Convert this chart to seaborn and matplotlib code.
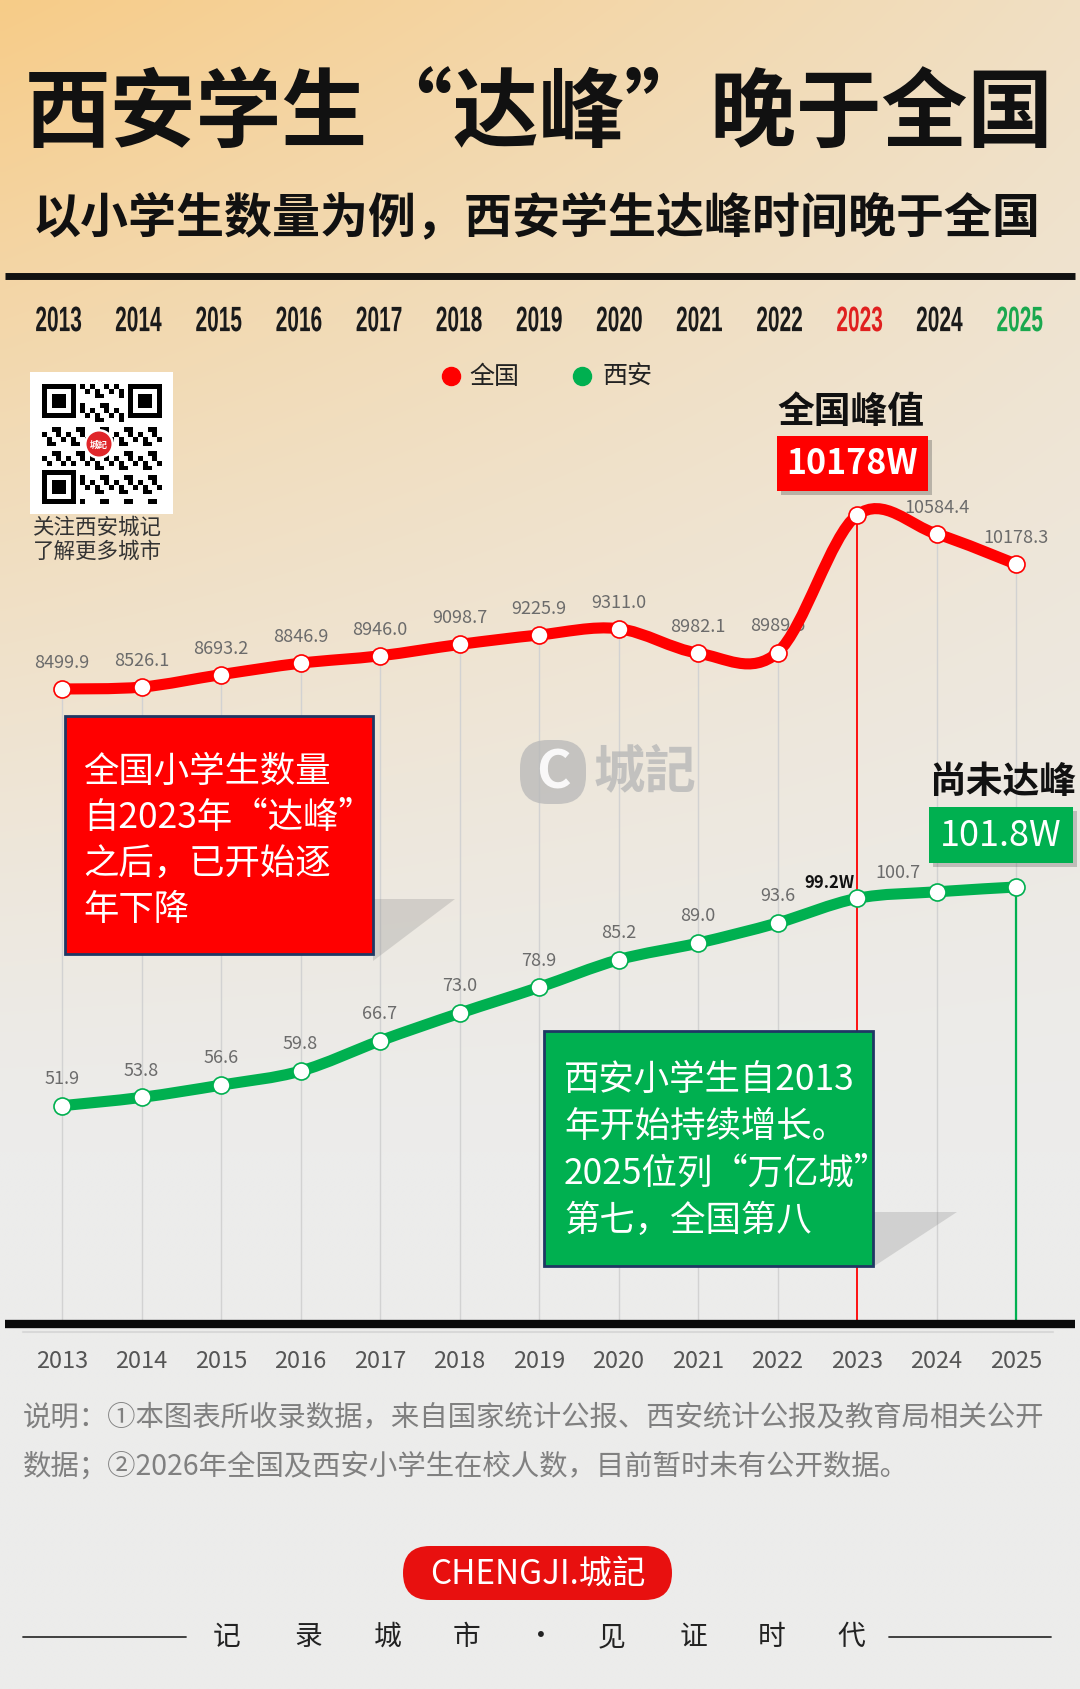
import numpy as np
import matplotlib
matplotlib.use('Agg')
import matplotlib.pyplot as plt
import matplotlib.transforms as mtransforms
import seaborn as sns
from matplotlib.path import Path
from matplotlib.patches import PathPatch, Rectangle, Polygon, FancyBboxPatch, Circle
from matplotlib.textpath import TextPath
from matplotlib.font_manager import FontProperties

sns.set_theme(style='white')
plt.rcParams['font.family'] = ['Noto Sans CJK SC', 'DejaVu Sans']

# ---- data ----
years = [2013, 2014, 2015, 2016, 2017, 2018, 2019, 2020, 2021, 2022, 2023, 2024, 2025]
national = [8499.9, 8526.1, 8693.2, 8846.9, 8946.0, 9098.7, 9225.9, 9311.0,
            8982.1, 8989.5, 10836.0, 10584.4, 10178.3]
xian = [51.9, 53.8, 56.6, 59.8, 66.7, 73.0, 78.9, 85.2, 89.0, 93.6, 99.2, 100.7, 101.8]
year_labels = [str(y) for y in years]
peak_year = 2023
national_peak_text = '10178W'
xian_now_text = '101.8W'

title = '西安学生“达峰”晚于全国'
subtitle = '以小学生数量为例，西安学生达峰时间晚于全国'
red_note = ['全国小学生数量', '自2023年“达峰”', '之后，已开始逐', '年下降']
green_note = ['西安小学生自2013', '年开始持续增长。', '2025位列“万亿城”', '第七，全国第八']
foot_note = ['说明：①本图表所收录数据，来自国家统计公报、西安统计公报及教育局相关公开',
             '数据；②2026年全国及西安小学生在校人数，目前暂时未有公开数据。']
tagline = ['记', '录', '城', '市', '·', '见', '证', '时', '代']

RED = '#ff0000'
GREEN = '#00b050'
NAVY = '#1f3864'

W, H = 1080, 1690
fig = plt.figure(figsize=(W / 100, H / 100), dpi=100)

# background layer in pixel coordinates
bg = fig.add_axes([0, 0, 1, 1])
bg.set_zorder(0)
bg.axis('off')
gy, gx = np.mgrid[0:1:200j, 0:1:120j]
w = np.clip(1 - gy * H / 1150, 0, 1) ** 1.3 * (1 - 0.6 * gx)
grey = np.array([236, 236, 235]) / 255
orange = np.array([247, 204, 136]) / 255
img = grey[None, None, :] + w[:, :, None] * (orange - grey)[None, None, :]
bg.imshow(img, extent=(0, W, H, 0), aspect='auto', interpolation='bilinear', zorder=0)

# chart axes
step = 79.5
left_px = 62 - step / 2
ax = fig.add_axes([left_px / W, (H - 1325) / H, 13 * step / W, (1325 - 300) / H])
ax2 = ax.twinx()
ax.set_zorder(1)
ax2.set_zorder(2)


def smooth_path(xs, ys):
    pts = np.column_stack([xs, ys]).astype(float)
    ext = np.vstack([pts[0], pts, pts[-1]])
    verts, codes = [pts[0]], [Path.MOVETO]
    for i in range(len(pts) - 1):
        p0, p1, p2, p3 = ext[i], ext[i + 1], ext[i + 2], ext[i + 3]
        verts += [p1 + (p2 - p0) / 6, p2 - (p3 - p1) / 6, p2]
        codes += [Path.CURVE4] * 3
    return Path(verts, codes)


nat_lo, xia_lo = -35, 2.1
# grey drop lines
others = [(y, v) for y, v in zip(years, national) if y != peak_year]
ax.vlines([o[0] for o in others], nat_lo, [o[1] for o in others], color='#d2d2d2', lw=1, zorder=1)
ax.vlines(peak_year, nat_lo, national[years.index(peak_year)], color=RED, lw=1.3, zorder=2)
ax2.vlines(years[-1], xia_lo, xian[-1], color=GREEN, lw=1.6, zorder=2)

ax.add_patch(PathPatch(smooth_path(years, national), fc='none', ec=RED, lw=8,
                       capstyle='round', zorder=3))
ax2.add_patch(PathPatch(smooth_path(years, xian), fc='none', ec=GREEN, lw=8,
                        capstyle='round', zorder=3))
sns.scatterplot(x=years, y=national, ax=ax, color='white', edgecolor=RED, s=150,
                linewidth=1.2, zorder=4, legend=False)
sns.scatterplot(x=years, y=xian, ax=ax2, color='white', edgecolor=GREEN, s=150,
                linewidth=1.2, zorder=4, legend=False)

for y, v in zip(years, national):
    if y == peak_year:
        continue
    ax.annotate(f'{v:.1f}', (y, v), xytext=(0, 19.5), textcoords='offset points',
                ha='center', va='center', fontsize=13, color='#6b6b6b', zorder=2)
for y, v in zip(years, xian):
    if y < peak_year:
        ax2.annotate(f'{v:.1f}', (y, v), xytext=(0, 20), textcoords='offset points',
                     ha='center', va='center', fontsize=13, color='#6b6b6b', zorder=2)
    elif y == peak_year:
        ax2.annotate(f'{v:.1f}W', (y, v), xytext=(-2, 12), textcoords='offset points',
                     ha='right', va='center', fontsize=12, weight='bold', color='#111', zorder=2)
    elif y < years[-1]:
        ax2.annotate(f'{v:.1f}', (y, v), xytext=(-28, 14.5), textcoords='offset points',
                     ha='center', va='center', fontsize=13, color='#6b6b6b', zorder=2)

ax.set_xlim(years[0] - 0.5, years[-1] + 0.5)
ax.set_ylim(nat_lo, 13742)
ax2.set_ylim(xia_lo, 235.95)
for a in (ax, ax2):
    a.axis('off')
    a.patch.set_alpha(0)

# foreground layer in pixel coordinates
fg = fig.add_axes([0, 0, 1, 1])
fg.set_zorder(5)
fg.axis('off')
fg.patch.set_alpha(0)

# title block
t1 = bg.text(539, 116, title, fontsize=62, weight='bold', ha='center', va='center', color='#111')
t2 = bg.text(537, 218, subtitle, fontsize=34.5, weight='bold', ha='center', va='center', color='#111')
bg.plot([5, 1075], [277, 277], color='#111', lw=5, solid_capstyle='butt')


def fit_width(t, target):
    bb = t.get_window_extent(renderer=fig.canvas.get_renderer())
    t.set_fontsize(t.get_fontsize() * target / bb.width)


fit_width(t1, 1030)
fit_width(t2, 1007)

# condensed year row on top
fp = FontProperties(family=['Liberation Sans Narrow', 'Liberation Sans'], weight='bold')
ref = TextPath((0, 0), '2013', size=100, prop=fp).get_extents()
sx, sy = 45 / ref.width, 25 / ref.height
for i, lab in enumerate(year_labels):
    tp = TextPath((0, 0), lab, size=100, prop=fp)
    e = tp.get_extents()
    col = '#1a1a1a'
    if years[i] == peak_year:
        col = '#e0201f'
    elif years[i] == years[-1]:
        col = '#1aa84e'
    tr = mtransforms.Affine2D().translate(-(e.x0 + e.x1) / 2, -(e.y0 + e.y1) / 2) \
        .scale(sx, -sy).translate(58.6 + i * 80.1, 320)
    bg.add_patch(PathPatch(tr.transform_path(tp), fc=col, ec='none'))

# legend
fg.plot(451, 377, 'o', ms=13, color=RED)
fg.text(469, 377, '全国', fontsize=18, ha='left', va='center', color='#222')
fg.plot(582, 377, 'o', ms=13, color=GREEN)
fg.text(603, 377, '西安', fontsize=18, ha='left', va='center', color='#222')

# QR-style badge
bg.add_patch(Rectangle((30, 373), 143, 142, fc='white', ec='none', zorder=1))
n = 25
ii, jj = np.mgrid[0:n, 0:n]
mod = ((ii * ii * 3 + jj * 7 + ii * jj) % 5) < 2
for (r0, c0) in [(0, 0), (0, n - 7), (n - 7, 0)]:
    blk = np.zeros((7, 7), bool)
    blk[0, :] = blk[-1, :] = blk[:, 0] = blk[:, -1] = True
    blk[2:5, 2:5] = True
    mod[max(r0 - 1, 0):r0 + 8, max(c0 - 1, 0):c0 + 8] = False
    mod[r0:r0 + 7, c0:c0 + 7] = blk
bg.imshow(np.where(mod, 0.0, 1.0)[:, :, None].repeat(3, axis=2), extent=(42, 162, 505, 385),
          aspect='auto', interpolation='nearest', zorder=2)
bg.add_patch(Circle((99, 445), 15, fc='white', ec='none', zorder=3))
bg.add_patch(Circle((99, 445), 12.5, fc='#e0262a', ec='none', zorder=4))
bg.text(99, 445, '城記', fontsize=6.5, color='white', ha='center', va='center', weight='bold', zorder=5)
bg.text(33, 528, '关注西安城记', fontsize=15.5, color='#333', ha='left', va='center')
bg.text(33, 552, '了解更多城市', fontsize=15.5, color='#333', ha='left', va='center')

# watermark
fg.add_patch(FancyBboxPatch((520, 741), 66, 64, boxstyle='round,pad=0,rounding_size=28',
                            fc='#b8b8b8', ec='none', alpha=0.75, zorder=1))
fg.text(553, 773, 'C', fontsize=38, weight='bold', color='white', ha='center', va='center',
        alpha=0.9, zorder=1)
fg.text(645, 772, '城記', fontsize=37, weight='bold', color='#b8b8b8', ha='center', va='center',
        alpha=0.8, zorder=1)

# red note box
fg.add_patch(Polygon([(373, 900), (455, 900), (373, 962)], closed=True, fc='#8a8a8a',
                     ec='none', alpha=0.28, zorder=2))
fg.add_patch(Rectangle((65, 717), 308, 238, fc=RED, ec=NAVY, lw=2, zorder=3))
for k, line in enumerate(red_note):
    fg.text(83, 772 + 46 * k, line, fontsize=25.5, color='white', ha='left', va='center', zorder=4)

# green note box
fg.add_patch(Polygon([(873, 1213), (957, 1213), (873, 1268)], closed=True, fc='#8a8a8a',
                     ec='none', alpha=0.28, zorder=2))
fg.add_patch(Rectangle((544, 1032), 329, 235, fc=GREEN, ec=NAVY, lw=2, zorder=3))
for k, line in enumerate(green_note):
    fg.text(564, 1080 + 47 * k, line, fontsize=25.5, color='white', ha='left', va='center', zorder=4)

# peak callouts
fg.text(851, 412, '全国峰值', fontsize=26.5, weight='bold', color='#111', ha='center', va='center')
fg.add_patch(Rectangle((781, 441), 151, 55, fc='#555', ec='none', alpha=0.35, zorder=2))
fg.add_patch(Rectangle((777, 437), 151, 55, fc=RED, ec='none', zorder=3))
fg.text(852, 463, national_peak_text, fontsize=24.5, weight='bold', color='white',
        ha='center', va='center', zorder=4)

fg.text(1003, 782, '尚未达峰', fontsize=26.5, weight='bold', color='#111', ha='center', va='center')
fg.add_patch(Rectangle((933, 812), 144, 56, fc='#555', ec='none', alpha=0.3, zorder=2))
fg.add_patch(Rectangle((929, 808), 144, 56, fc=GREEN, ec='none', zorder=3))
fg.text(1001, 836, xian_now_text, fontsize=26, color='white', ha='center', va='center', zorder=4)

# baseline and bottom years
fg.plot([5, 1075], [1325, 1325], color='#0a0a0a', lw=6, solid_capstyle='butt', zorder=6)
bg.plot([23, 1053], [1333, 1333], color='#d8d8d8', lw=1.5)
blend = mtransforms.blended_transform_factory(ax.transData, bg.transData)
for y, lab in zip(years, year_labels):
    fig.text(y, 1362, lab, transform=blend, fontsize=17, color='#555', ha='center', va='center')

# footnote
n1 = bg.text(23, 1418, foot_note[0], fontsize=20.5, color='#808080', ha='left', va='center')
fit_width(n1, 1024)
bg.text(23, 1467, foot_note[1], fontsize=n1.get_fontsize(), color='#808080', ha='left', va='center')

# brand pill and tagline
bg.add_patch(FancyBboxPatch((403, 1547), 269, 54, boxstyle='round,pad=0,rounding_size=27',
                            fc='#e8100f', ec='none'))
bg.text(538, 1574, 'CHENGJI.城記', fontsize=24, color='white', ha='center', va='center')
for xc, ch in zip([227, 308, 388, 467, 541, 612, 693, 772, 851], tagline):
    bg.text(xc, 1637, ch, fontsize=20, color='#222', ha='center', va='center')
bg.plot([23, 186], [1638, 1638], color='#333', lw=1.3)
bg.plot([889, 1051], [1638, 1638], color='#333', lw=1.3)

for a in (bg, fg):
    a.set_xlim(0, W)
    a.set_ylim(H, 0)

fig.savefig('out.png', dpi=100)
